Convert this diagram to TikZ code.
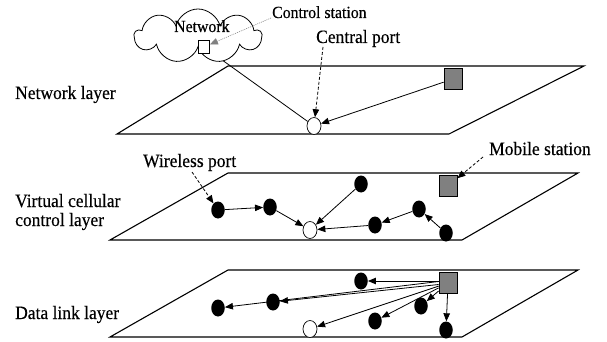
\documentclass[tikz,border=0pt]{standalone}
\usepackage{fontspec}
\setmainfont{Liberation Serif}
\newfontfamily\lblfont{Liberation Serif}[FakeBold=0.35,FakeStretch=0.93]
\usetikzlibrary{shapes.geometric,shapes.symbols,arrows.meta,backgrounds}
\begin{document}
\begin{tikzpicture}[x=1pt,y=-1pt,
  plane/.style={draw,line width=1.1pt},
  port/.style={ellipse,fill=black,minimum width=13.5pt,minimum height=17pt,inner sep=0pt},
  cport/.style={ellipse,draw,fill=white,line width=0.7pt,minimum width=14pt,minimum height=17pt,inner sep=0pt},
  mstation/.style={rectangle,draw,fill=gray,line width=0.7pt,minimum width=18pt,minimum height=21pt,inner sep=0pt},
  cstation/.style={rectangle,draw,fill=white,line width=0.7pt,minimum width=11pt,minimum height=13pt,inner sep=0pt},
  arr/.style={-{Triangle[length=8pt,width=6.5pt]},line width=0.8pt},
  dasharr/.style={arr,dash pattern=on 3pt off 2pt},
  dotarr/.style={-{Triangle[length=8pt,width=6.5pt]},line width=0.6pt,draw=gray,dash pattern=on 1pt off 1pt},
  lbl/.style={font=\lblfont\fontsize{18.8}{20}\selectfont,inner sep=0pt,anchor=base west},
  slbl/.style={font=\lblfont\fontsize{17}{18}\selectfont,inner sep=0pt,anchor=base west}
]
\useasboundingbox (0,0) rectangle (607,342);

% cloud
\node[cloud,draw,line width=0.8pt,cloud puffs=9,cloud ignores aspect,minimum width=127pt,minimum height=54pt,fill=white] (cloud) at (198,36) {};
\node[slbl] (nettxt) at (174,32) {Network};
\node[cstation] (cs) at (204,47) {};

% labels
\node[lbl] (l1) at (15,99) {Network layer};
\node[lbl] (l2) at (15,207) {Virtual cellular};
\node[lbl] (l3) at (15,226) {control layer};
\node[lbl] (l4) at (15,319) {Data link layer};
\node[slbl] (tcs) at (272,18) {Control station};
\node[lbl] (tcp) at (316,43) {Central port};
\node[lbl] (twp) at (143,167) {Wireless port};
\node[lbl] (tms) at (489,155) {Mobile station};

% network layer nodes
\node[cport] (cp1) at (314,126) {};
\node[mstation] (ms1) at (453,79) {};

% virtual layer nodes
\node[port] (a) at (218,210) {};
\node[port] (b) at (270,207) {};
\node[cport] (c) at (310,230) {};
\node[port] (d) at (361,184) {};
\node[port] (e) at (375,225) {};
\node[port] (f) at (419,209) {};
\node[port] (g) at (446,233) {};
\node[mstation] (ms2) at (448,186) {};

% data link layer nodes
\node[mstation] (ms3) at (448,283) {};
\node[port] (h) at (361,281) {};
\node[port] (i) at (421,306) {};
\node[port] (j) at (375,321) {};
\node[cport] (k) at (310,329) {};
\node[port] (l) at (446,330) {};
\node[port] (m) at (273,302) {};
\node[port] (n) at (218,308) {};

\coordinate (s1) at (271,18);
\coordinate (s2) at (323,47);
\coordinate (s3) at (192,172);
\coordinate (s4) at (483,157);

\begin{pgfonlayer}{background}
% planes
\draw[plane] (228,66) -- (584,66) -- (449,134) -- (117,134) -- cycle;
\draw[plane] (228,173) -- (578,173) -- (462,240) -- (110,240) -- cycle;
\draw[plane] (228,270) -- (578,270) -- (462,337) -- (110,337) -- cycle;
% network layer
\draw[line width=0.8pt] (cs) -- (cp1);
\draw[arr] (ms1) -- (cp1);
% virtual layer
\draw[arr] (a) -- (b);
\draw[arr] (b) -- (c);
\draw[arr] (d) -- (c);
\draw[arr] (e) -- (c);
\draw[arr] (f) -- (e);
\draw[arr] (g) -- (f);
% data link layer
\draw[arr] (ms3.west |- h) -- (h);
\draw[arr] (ms3) -- (i);
\draw[arr] (ms3) -- (j);
\draw[arr] (ms3) -- (k);
\draw[arr] (ms3) -- (l);
\draw[arr] ([yshift=-1.5pt]ms3.west) -- (m);
\draw[arr] ([yshift=1.5pt]ms3.west) -- (n);
\end{pgfonlayer}

% callouts
\draw[dotarr] (s1) -- (cs);
\draw[dasharr] (s2) -- (cp1);
\draw[dasharr] (s3) -- (a);
\draw[dasharr] (s4) -- (ms2);
\end{tikzpicture}
\end{document}
